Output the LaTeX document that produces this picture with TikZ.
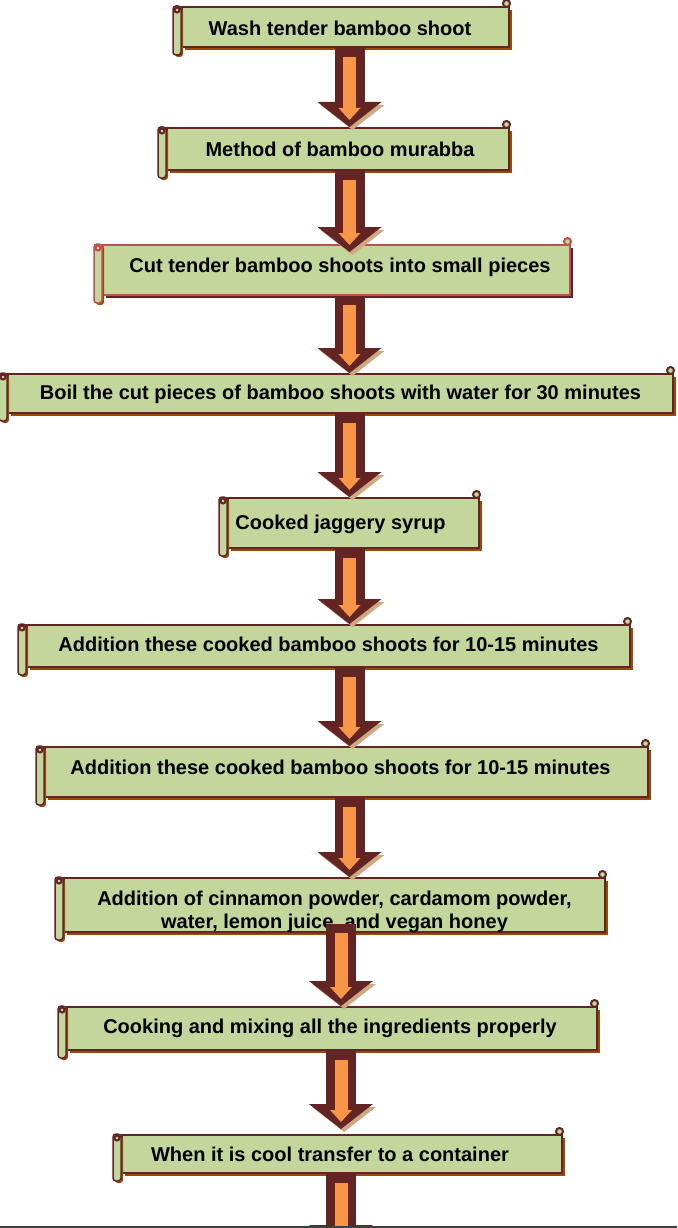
\documentclass[tikz,border=0pt]{standalone}
\usepackage{fontspec}
\setmainfont{Liberation Sans}
\usetikzlibrary{arrows.meta,calc,shadows}

\definecolor{scrollfill}{RGB}{195,214,155}
\definecolor{scrollline}{RGB}{99,37,35}
\definecolor{scrollshadow}{RGB}{152,72,7}
\definecolor{altline}{RGB}{192,80,77}
\definecolor{arrowdark}{RGB}{99,37,35}
\definecolor{arrowfill}{RGB}{247,150,70}
\definecolor{arrowshadow}{RGB}{205,168,128}

\def \rollWidth {8}

\tikzset{
  scrollbase/.style={draw=scrollline, fill=scrollfill, line width=2pt, inner sep=0pt,
    font=\bfseries\fontsize{20}{23}\selectfont},
  scroll/.style={scrollbase,
    drop shadow={shadow xshift=3pt, shadow yshift=-3pt, fill=scrollshadow, opacity=1}},
  scrollalt/.style={scrollbase, draw=altline,
    drop shadow={shadow xshift=3pt, shadow yshift=-3pt, fill=scrollline, opacity=1}},
  nudge/.style={execute at begin node={\hspace*{#1}}},
  roll/.style={fill=scrollfill, line width=1.5pt, rounded corners=3pt,
    drop shadow={shadow xshift=2pt, shadow yshift=-2pt, fill=scrollshadow, opacity=1}},
  curl/.style={fill=scrollfill, line width=2pt},
  flow/.style={draw=arrowdark, line width=30pt,
    -{Triangle[width=64pt,length=25pt,line width=0pt]},
    preaction={draw=arrowshadow, transform canvas={shift={(3pt,-3pt)}}},
    postaction={draw=arrowfill, line width=13pt, shorten <=9pt, shorten >=7pt,
      -{Triangle[width=22pt,length=12pt,line width=0pt]}}},
  pageline/.style={draw=black!75, line width=1.5pt}
}

\begin{document}
\begin{tikzpicture}[x=1pt,y=-1pt]
  \useasboundingbox (0,0) rectangle (677,1228);

  % steps
  \node[scroll, nudge=-11pt, minimum width=327, text height=29, text depth=11] (wash) at (345.5,27) {Wash tender bamboo shoot};
  \node[scroll, nudge=4pt, minimum width=342, text height=28, text depth=14] (method) at (338,149) {Method of bamboo murabba};
  \node[scrollalt, nudge=7pt, minimum width=467, text height=27, text depth=23] (cut) at (336.5,270) {Cut tender bamboo shoots into small pieces};
  \node[scroll, minimum width=665, text height=25, text depth=14] (boil) at (340.5,393.5) {Boil the cut pieces of bamboo shoots with water for 30 minutes};
  \node[scroll, nudge=-26pt, minimum width=251, text height=31, text depth=19] (syrup) at (353.5,523) {Cooked jaggery syrup};
  \node[scroll, minimum width=603, text height=26, text depth=16] (addone) at (328.5,646) {Addition these cooked bamboo shoots for 10-15 minutes};
  \node[scroll, nudge=-12pt, minimum width=603, text height=27, text depth=23] (addtwo) at (346.5,772) {Addition these cooked bamboo shoots for 10-15 minutes};
  \node[scroll, minimum width=541, text height=50, text depth=4, align=center] (spice) at (334.5,905) {Addition of cinnamon powder, cardamom powder,\\ water, lemon juice, and vegan honey};
  \node[scroll, nudge=-4pt, minimum width=530, text height=26, text depth=17] (mix) at (332,1028.5) {Cooking and mixing all the ingredients properly};
  \node[scroll, nudge=-24pt, minimum width=440, text height=26, text depth=12] (cool) at (342,1154) {When it is cool transfer to a container};

  % scroll ends
  \foreach \n/\c in {wash/scrollline, method/scrollline, cut/altline, boil/scrollline, syrup/scrollline,
                     addone/scrollline, addtwo/scrollline, spice/scrollline, mix/scrollline, cool/scrollline} {
    \filldraw[roll, draw=\c] ($(\n.north west)+(-\rollWidth,0)$) rectangle ($(\n.south west)+(0,7)$);
    \filldraw[curl, draw=\c] ($(\n.north west)+(-4,4)$) circle[radius=2.5];
    \filldraw[curl, draw=\c] ($(\n.north east)+(-3.5,-2.5)$) circle[radius=3.5];
  }

  \coordinate (axisA) at (349.5,0);
  \coordinate (axisB) at (341,0);
  \coordinate (pageend) at (341,1250);

  % arrows
  \draw[flow] (wash.south -| axisA) -- (method.north -| axisA);
  \draw[flow] (method.south -| axisA) -- ($(cut.north -| axisA)+(0,8)$);
  \draw[flow] (cut.south -| axisA) -- (boil.north -| axisA);
  \draw[flow] (boil.south -| axisA) -- (syrup.north -| axisA);
  \draw[flow] (syrup.south -| axisA) -- (addone.north -| axisA);
  \draw[flow] (addone.south -| axisA) -- (addtwo.north -| axisA);
  \draw[flow] (addtwo.south -| axisA) -- (spice.north -| axisA);
  \draw[flow] ($(spice.south -| axisB)+(0,-9)$) -- (mix.north -| axisB);
  \draw[flow] (mix.south -| axisB) -- ($(cool.north -| axisB)+(0,-5)$);
  \draw[flow] (cool.south -| axisB) -- (pageend);

  \draw[pageline] (0,1227) -- (677,1227);
\end{tikzpicture}
\end{document}
